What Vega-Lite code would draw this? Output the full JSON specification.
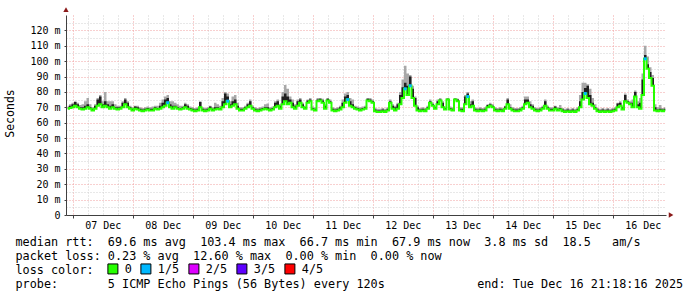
{
"$schema":"https://vega.github.io/schema/vega-lite/v6.json",
"width":600,"height":200,
"autosize":"none",
"padding":{"left":66,"top":15,"right":31,"bottom":82},
"background":"#ffffff",
"title":{"text":"RRDTOOL / TOBI OETIKER","orient":"right","anchor":"start","angle":90,"dx":-10,"font":"DejaVu Sans Mono","fontSize":8.5,"fontWeight":"normal","color":"#bbbbbb","offset":14},
"config":{"view":{"stroke":null},"axis":{"labelFont":"DejaVu Sans Mono","titleFont":"DejaVu Sans Mono","labelColor":"#000000","titleColor":"#000000","titleFontWeight":"normal","gridOpacity":1}},
"data":{"values":[
{"t":"2025-12-06T22:00","m":69,"d":70,"h":71},
{"t":"2025-12-06T23:00","m":69.5,"d":71,"h":72},
{"t":"2025-12-07T00:00","m":70,"d":72,"h":73},
{"t":"2025-12-07T01:00","m":71,"d":73.5,"h":74},
{"t":"2025-12-07T02:00","m":70,"d":72,"h":73},
{"t":"2025-12-07T03:00","m":69,"d":70,"h":71.5},
{"t":"2025-12-07T04:00","m":68.5,"d":70,"h":72},
{"t":"2025-12-07T05:00","m":69,"d":71,"h":74},
{"t":"2025-12-07T06:00","m":70,"d":72,"h":76},
{"t":"2025-12-07T07:00","m":69,"d":70,"h":72},
{"t":"2025-12-07T08:00","m":68,"d":69,"h":70},
{"t":"2025-12-07T09:00","m":69,"d":71,"h":72},
{"t":"2025-12-07T10:00","m":71,"d":75,"h":76},
{"t":"2025-12-07T11:00","m":72,"d":77,"h":78},
{"t":"2025-12-07T12:00","m":70,"d":72,"h":74},
{"t":"2025-12-07T13:00","m":71,"d":74,"h":80},
{"t":"2025-12-07T14:00","m":70,"d":72,"h":74},
{"t":"2025-12-07T15:00","m":69,"d":71,"h":74},
{"t":"2025-12-07T16:00","m":70,"d":72,"h":74},
{"t":"2025-12-07T17:00","m":69,"d":70,"h":72},
{"t":"2025-12-07T18:00","m":68.5,"d":70,"h":71},
{"t":"2025-12-07T19:00","m":69,"d":70,"h":71},
{"t":"2025-12-07T20:00","m":70,"d":73,"h":74},
{"t":"2025-12-07T21:00","m":72,"d":75,"h":76},
{"t":"2025-12-07T22:00","m":70,"d":73,"h":74},
{"t":"2025-12-07T23:00","m":69,"d":70,"h":71},
{"t":"2025-12-08T00:00","m":68,"d":69,"h":70},
{"t":"2025-12-08T01:00","m":69,"d":70.5,"h":71},
{"t":"2025-12-08T02:00","m":68.5,"d":70,"h":71},
{"t":"2025-12-08T03:00","m":68,"d":69,"h":70},
{"t":"2025-12-08T04:00","m":67.5,"d":68.5,"h":69.5},
{"t":"2025-12-08T05:00","m":68,"d":69,"h":70},
{"t":"2025-12-08T06:00","m":68.5,"d":69.5,"h":70.5},
{"t":"2025-12-08T07:00","m":68,"d":69,"h":70},
{"t":"2025-12-08T08:00","m":68,"d":69,"h":70.5},
{"t":"2025-12-08T09:00","m":69,"d":70,"h":71},
{"t":"2025-12-08T10:00","m":68.5,"d":69.5,"h":71},
{"t":"2025-12-08T11:00","m":69,"d":71,"h":73},
{"t":"2025-12-08T12:00","m":70,"d":73,"h":75},
{"t":"2025-12-08T13:00","m":71,"d":75,"h":77},
{"t":"2025-12-08T14:00","m":73,"d":76,"h":78,"loss":"1/5"},
{"t":"2025-12-08T15:00","m":70,"d":72,"h":74},
{"t":"2025-12-08T16:00","m":69,"d":71,"h":74},
{"t":"2025-12-08T17:00","m":70,"d":71,"h":73},
{"t":"2025-12-08T18:00","m":69,"d":70,"h":72},
{"t":"2025-12-08T19:00","m":68.5,"d":69.5,"h":71},
{"t":"2025-12-08T20:00","m":69,"d":70,"h":71},
{"t":"2025-12-08T21:00","m":70,"d":72,"h":73},
{"t":"2025-12-08T22:00","m":69,"d":71,"h":72},
{"t":"2025-12-08T23:00","m":68.5,"d":69.5,"h":70.5},
{"t":"2025-12-09T00:00","m":68,"d":69,"h":70},
{"t":"2025-12-09T01:00","m":67.5,"d":68.5,"h":69.5},
{"t":"2025-12-09T02:00","m":68,"d":69,"h":70},
{"t":"2025-12-09T03:00","m":70,"d":73.5,"h":74},
{"t":"2025-12-09T04:00","m":68,"d":69,"h":70},
{"t":"2025-12-09T05:00","m":67.5,"d":68.5,"h":69.5},
{"t":"2025-12-09T06:00","m":68,"d":69,"h":70},
{"t":"2025-12-09T07:00","m":69,"d":70.5,"h":71},
{"t":"2025-12-09T08:00","m":68,"d":69,"h":70},
{"t":"2025-12-09T09:00","m":68.5,"d":70,"h":73},
{"t":"2025-12-09T10:00","m":69,"d":70,"h":72},
{"t":"2025-12-09T11:00","m":68.5,"d":69.5,"h":71},
{"t":"2025-12-09T12:00","m":70,"d":74,"h":76},
{"t":"2025-12-09T13:00","m":72,"d":79,"h":80},
{"t":"2025-12-09T14:00","m":74,"d":77,"h":79,"loss":"1/5"},
{"t":"2025-12-09T15:00","m":70,"d":72,"h":74},
{"t":"2025-12-09T16:00","m":71,"d":74,"h":77},
{"t":"2025-12-09T17:00","m":72,"d":75,"h":78},
{"t":"2025-12-09T18:00","m":69,"d":71,"h":73},
{"t":"2025-12-09T19:00","m":68,"d":69,"h":70},
{"t":"2025-12-09T20:00","m":68,"d":69,"h":70},
{"t":"2025-12-09T21:00","m":69,"d":70,"h":71},
{"t":"2025-12-09T22:00","m":70,"d":72,"h":73},
{"t":"2025-12-09T23:00","m":71,"d":74,"h":75},
{"t":"2025-12-10T00:00","m":69,"d":70,"h":71},
{"t":"2025-12-10T01:00","m":68,"d":69,"h":70},
{"t":"2025-12-10T02:00","m":67.5,"d":68.5,"h":69.5},
{"t":"2025-12-10T03:00","m":68,"d":69,"h":70},
{"t":"2025-12-10T04:00","m":68.5,"d":69.5,"h":70.5},
{"t":"2025-12-10T05:00","m":69,"d":70,"h":72},
{"t":"2025-12-10T06:00","m":68.5,"d":70,"h":72.5},
{"t":"2025-12-10T07:00","m":68,"d":69,"h":70},
{"t":"2025-12-10T08:00","m":68.5,"d":69.5,"h":70.5},
{"t":"2025-12-10T09:00","m":70,"d":73,"h":74},
{"t":"2025-12-10T10:00","m":71,"d":74,"h":75},
{"t":"2025-12-10T11:00","m":69,"d":71,"h":72},
{"t":"2025-12-10T12:00","m":72,"d":77,"h":80},
{"t":"2025-12-10T13:00","m":74,"d":79,"h":84.5},
{"t":"2025-12-10T14:00","m":72,"d":77,"h":82},
{"t":"2025-12-10T15:00","m":73,"d":75,"h":77},
{"t":"2025-12-10T16:00","m":70,"d":73,"h":75},
{"t":"2025-12-10T17:00","m":69,"d":71,"h":72},
{"t":"2025-12-10T18:00","m":71,"d":74,"h":75},
{"t":"2025-12-10T19:00","m":73,"d":75,"h":76},
{"t":"2025-12-10T20:00","m":70,"d":72,"h":73},
{"t":"2025-12-10T21:00","m":69,"d":70,"h":71},
{"t":"2025-12-10T22:00","m":73,"d":74.5,"h":75},
{"t":"2025-12-10T23:00","m":74,"d":75,"h":76},
{"t":"2025-12-11T00:00","m":68.5,"d":69.5,"h":70.5},
{"t":"2025-12-11T01:00","m":68,"d":69,"h":70},
{"t":"2025-12-11T02:00","m":74,"d":75,"h":76},
{"t":"2025-12-11T03:00","m":74.5,"d":75.5,"h":76},
{"t":"2025-12-11T04:00","m":73,"d":74.5,"h":75.5},
{"t":"2025-12-11T05:00","m":69,"d":71,"h":72},
{"t":"2025-12-11T06:00","m":74.5,"d":75.5,"h":76},
{"t":"2025-12-11T07:00","m":73,"d":74,"h":75},
{"t":"2025-12-11T08:00","m":68,"d":69,"h":70},
{"t":"2025-12-11T09:00","m":67.5,"d":68.5,"h":69.5},
{"t":"2025-12-11T10:00","m":68,"d":69,"h":70},
{"t":"2025-12-11T11:00","m":68.5,"d":70,"h":71},
{"t":"2025-12-11T12:00","m":70,"d":73,"h":75},
{"t":"2025-12-11T13:00","m":73,"d":77,"h":79},
{"t":"2025-12-11T14:00","m":75,"d":78,"h":80,"loss":"1/5"},
{"t":"2025-12-11T15:00","m":71,"d":74,"h":76},
{"t":"2025-12-11T16:00","m":70,"d":72,"h":75},
{"t":"2025-12-11T17:00","m":69,"d":70,"h":71},
{"t":"2025-12-11T18:00","m":68.5,"d":69.5,"h":70.5},
{"t":"2025-12-11T19:00","m":68,"d":69,"h":70},
{"t":"2025-12-11T20:00","m":68.5,"d":69.5,"h":70.5},
{"t":"2025-12-11T21:00","m":69,"d":70,"h":71},
{"t":"2025-12-11T22:00","m":74.5,"d":75.5,"h":76},
{"t":"2025-12-11T23:00","m":74,"d":75,"h":76},
{"t":"2025-12-12T00:00","m":73,"d":74,"h":75},
{"t":"2025-12-12T01:00","m":67.5,"d":68.5,"h":69.5},
{"t":"2025-12-12T02:00","m":67,"d":68,"h":69},
{"t":"2025-12-12T03:00","m":67,"d":68,"h":69},
{"t":"2025-12-12T04:00","m":67.5,"d":68.5,"h":69.5},
{"t":"2025-12-12T05:00","m":67,"d":68,"h":69},
{"t":"2025-12-12T06:00","m":68,"d":69,"h":70},
{"t":"2025-12-12T07:00","m":73,"d":74,"h":75},
{"t":"2025-12-12T08:00","m":69,"d":71,"h":72},
{"t":"2025-12-12T09:00","m":68,"d":70,"h":71},
{"t":"2025-12-12T10:00","m":69,"d":72,"h":73},
{"t":"2025-12-12T11:00","m":72,"d":78,"h":80},
{"t":"2025-12-12T12:00","m":76,"d":83,"h":88},
{"t":"2025-12-12T13:00","m":82,"d":86,"h":97,"loss":"1/5"},
{"t":"2025-12-12T14:00","m":78,"d":84,"h":92},
{"t":"2025-12-12T15:00","m":84,"d":90,"h":91,"loss":"1/5"},
{"t":"2025-12-12T16:00","m":76,"d":82,"h":84},
{"t":"2025-12-12T17:00","m":71,"d":76,"h":77},
{"t":"2025-12-12T18:00","m":68,"d":70,"h":71},
{"t":"2025-12-12T19:00","m":67.5,"d":68.5,"h":69.5},
{"t":"2025-12-12T20:00","m":68,"d":69,"h":70},
{"t":"2025-12-12T21:00","m":67.5,"d":68.5,"h":69.5},
{"t":"2025-12-12T22:00","m":69,"d":70,"h":71},
{"t":"2025-12-12T23:00","m":73,"d":74,"h":75},
{"t":"2025-12-13T00:00","m":71,"d":72,"h":73},
{"t":"2025-12-13T01:00","m":69,"d":70,"h":71},
{"t":"2025-12-13T02:00","m":72,"d":74,"h":75},
{"t":"2025-12-13T03:00","m":74.5,"d":75,"h":76},
{"t":"2025-12-13T04:00","m":70,"d":73,"h":74},
{"t":"2025-12-13T05:00","m":68.5,"d":69.5,"h":70.5},
{"t":"2025-12-13T06:00","m":75,"d":75.5,"h":76},
{"t":"2025-12-13T07:00","m":68.5,"d":69.5,"h":70.5},
{"t":"2025-12-13T08:00","m":68,"d":69,"h":70},
{"t":"2025-12-13T09:00","m":75,"d":75.5,"h":76},
{"t":"2025-12-13T10:00","m":74,"d":75,"h":75.5},
{"t":"2025-12-13T11:00","m":68,"d":69,"h":70},
{"t":"2025-12-13T12:00","m":67.5,"d":69,"h":70},
{"t":"2025-12-13T13:00","m":72,"d":77,"h":78},
{"t":"2025-12-13T14:00","m":77,"d":79,"h":80,"loss":"1/5"},
{"t":"2025-12-13T15:00","m":70,"d":72,"h":74},
{"t":"2025-12-13T16:00","m":71,"d":74,"h":75},
{"t":"2025-12-13T17:00","m":68,"d":69,"h":70},
{"t":"2025-12-13T18:00","m":67.5,"d":68.5,"h":69.5},
{"t":"2025-12-13T19:00","m":68,"d":69,"h":70},
{"t":"2025-12-13T20:00","m":67.5,"d":68.5,"h":69.5},
{"t":"2025-12-13T21:00","m":68,"d":69,"h":70},
{"t":"2025-12-13T22:00","m":70,"d":71.5,"h":72},
{"t":"2025-12-13T23:00","m":71,"d":72,"h":73},
{"t":"2025-12-14T00:00","m":70,"d":71,"h":72},
{"t":"2025-12-14T01:00","m":68,"d":69,"h":70},
{"t":"2025-12-14T02:00","m":67.5,"d":68.5,"h":69.5},
{"t":"2025-12-14T03:00","m":68,"d":69,"h":70},
{"t":"2025-12-14T04:00","m":67.5,"d":68.5,"h":69.5},
{"t":"2025-12-14T05:00","m":69,"d":70.5,"h":71},
{"t":"2025-12-14T06:00","m":72,"d":75,"h":76},
{"t":"2025-12-14T07:00","m":69,"d":70,"h":72},
{"t":"2025-12-14T08:00","m":68,"d":69,"h":70},
{"t":"2025-12-14T09:00","m":67.5,"d":68.5,"h":69.5},
{"t":"2025-12-14T10:00","m":67.5,"d":68.5,"h":69.5},
{"t":"2025-12-14T11:00","m":68,"d":69,"h":70},
{"t":"2025-12-14T12:00","m":69,"d":70,"h":71},
{"t":"2025-12-14T13:00","m":72,"d":75,"h":77},
{"t":"2025-12-14T14:00","m":73,"d":75,"h":77},
{"t":"2025-12-14T15:00","m":70,"d":72,"h":74},
{"t":"2025-12-14T16:00","m":69,"d":71,"h":72},
{"t":"2025-12-14T17:00","m":68,"d":69,"h":70},
{"t":"2025-12-14T18:00","m":67.5,"d":68.5,"h":69.5},
{"t":"2025-12-14T19:00","m":68,"d":69,"h":70},
{"t":"2025-12-14T20:00","m":69,"d":70,"h":71},
{"t":"2025-12-14T21:00","m":71,"d":74,"h":75},
{"t":"2025-12-14T22:00","m":69,"d":70,"h":71},
{"t":"2025-12-14T23:00","m":68,"d":69,"h":70},
{"t":"2025-12-15T00:00","m":68,"d":69,"h":70},
{"t":"2025-12-15T01:00","m":69,"d":70.5,"h":71},
{"t":"2025-12-15T02:00","m":68,"d":69,"h":70},
{"t":"2025-12-15T03:00","m":68.5,"d":69.5,"h":71.5},
{"t":"2025-12-15T04:00","m":67.5,"d":68.5,"h":69.5},
{"t":"2025-12-15T05:00","m":67,"d":68,"h":69},
{"t":"2025-12-15T06:00","m":67.5,"d":68.5,"h":69.5},
{"t":"2025-12-15T07:00","m":67,"d":68,"h":69},
{"t":"2025-12-15T08:00","m":67.5,"d":68.5,"h":69.5},
{"t":"2025-12-15T09:00","m":67,"d":68,"h":69},
{"t":"2025-12-15T10:00","m":68,"d":69,"h":70},
{"t":"2025-12-15T11:00","m":70,"d":74,"h":78},
{"t":"2025-12-15T12:00","m":75,"d":80,"h":86},
{"t":"2025-12-15T13:00","m":79,"d":82.5,"h":86,"loss":"1/5"},
{"t":"2025-12-15T14:00","m":76,"d":84,"h":85},
{"t":"2025-12-15T15:00","m":72,"d":78,"h":82},
{"t":"2025-12-15T16:00","m":71,"d":73,"h":76},
{"t":"2025-12-15T17:00","m":69,"d":70,"h":72},
{"t":"2025-12-15T18:00","m":67.5,"d":68.5,"h":69.5},
{"t":"2025-12-15T19:00","m":67,"d":68,"h":69},
{"t":"2025-12-15T20:00","m":67.5,"d":68.5,"h":69.5},
{"t":"2025-12-15T21:00","m":67,"d":68,"h":69},
{"t":"2025-12-15T22:00","m":67.5,"d":68.5,"h":69.5},
{"t":"2025-12-15T23:00","m":67,"d":68,"h":69},
{"t":"2025-12-16T00:00","m":67.5,"d":68.5,"h":69.5},
{"t":"2025-12-16T01:00","m":68,"d":69,"h":70},
{"t":"2025-12-16T02:00","m":70,"d":72.5,"h":73},
{"t":"2025-12-16T03:00","m":71,"d":73,"h":74},
{"t":"2025-12-16T04:00","m":68.5,"d":70,"h":71},
{"t":"2025-12-16T05:00","m":74,"d":78,"h":79},
{"t":"2025-12-16T06:00","m":73,"d":74,"h":75},
{"t":"2025-12-16T07:00","m":72,"d":73,"h":74},
{"t":"2025-12-16T08:00","m":70,"d":73,"h":75},
{"t":"2025-12-16T09:00","m":77,"d":80,"h":81},
{"t":"2025-12-16T10:00","m":70,"d":72,"h":74},
{"t":"2025-12-16T11:00","m":69,"d":73,"h":76},
{"t":"2025-12-16T12:00","m":78,"d":88,"h":92},
{"t":"2025-12-16T13:00","m":101.5,"d":104,"h":110,"loss":"1/5"},
{"t":"2025-12-16T14:00","m":95,"d":98,"h":103},
{"t":"2025-12-16T15:00","m":89,"d":93,"h":96},
{"t":"2025-12-16T16:00","m":84,"d":89,"h":91},
{"t":"2025-12-16T17:00","m":68,"d":70,"h":72},
{"t":"2025-12-16T18:00","m":67.5,"d":68.5,"h":70},
{"t":"2025-12-16T19:00","m":68,"d":69,"h":71.5},
{"t":"2025-12-16T20:00","m":67.5,"d":68.5,"h":69.5},
{"t":"2025-12-16T21:00","m":68,"d":69,"h":70}
]},
"layer":[
{"mark":{"type":"area","color":"#a8a8a8","interpolate":"step"},
 "encoding":{
  "x":{"field":"t","type":"temporal","scale":{"domain":[{"year":2025,"month":12,"date":6,"hours":21,"minutes":18,"seconds":16},{"year":2025,"month":12,"date":16,"hours":21,"minutes":18,"seconds":16}]},
   "axis":{"tickCount":40,"grid":true,
    "gridColor":{"condition":{"test":"hours(datum.value) == 0","value":"#f0a0a0"},"value":"#d0d0d0"},"gridDash":[1,2],
    "labelExpr":"hours(datum.value) == 0 ? timeFormat(datum.value, '%d %b') : ''","labelOffset":30,"labelFontSize":10,"labelPadding":2,"labelFlush":false,"labelOverlap":false,
    "tickSize":3,"tickColor":{"condition":{"test":"hours(datum.value) == 0","value":"#404040"},"value":"transparent"},"domainColor":"#404040",
    "title":["median rtt:\u00a0\u00a069.6 ms avg\u00a0\u00a0103.4 ms max\u00a0\u00a066.7 ms min\u00a0\u00a067.9 ms now\u00a0\u00a03.8 ms sd\u00a0\u00a018.5\u00a0\u00a0\u00a0am/s","packet loss: 0.23 % avg\u00a0\u00a012.60 % max\u00a0\u00a00.00 % min\u00a0\u00a00.00 % now","loss color:","probe:\u00a0\u00a0\u00a0\u00a0\u00a0\u00a0\u00a05 ICMP Echo Pings (56 Bytes) every 120s\u00a0\u00a0\u00a0\u00a0\u00a0\u00a0\u00a0\u00a0\u00a0\u00a0\u00a0\u00a0\u00a0end: Tue Dec 16 21:18:16 2025"],
    "titleX":-51,"titleY":30,"titleAlign":"left","titleAnchor":"start","titleBaseline":"alphabetic","titleFontSize":11.8,"titleLineHeight":14}},
  "y":{"field":"m","type":"quantitative","scale":{"domain":[0,130],"nice":false},
   "axis":{"values":[0,5,10,15,20,25,30,35,40,45,50,55,60,65,70,75,80,85,90,95,100,105,110,115,120,125],"tickCount":30,"grid":true,
    "gridColor":{"condition":{"test":"datum.value % 10 == 0","value":"#f0a0a0"},"value":"#d0d0d0"},"gridDash":[1,2],
    "labelExpr":"datum.value % 10 != 0 ? '' : (datum.value == 0 ? '0\u00a0\u00a0' : datum.value + ' m')","labelFontSize":10,"labelPadding":4,"labelOverlap":false,
    "tickSize":2,"tickColor":{"condition":{"test":"datum.value % 10 == 0","value":"#404040"},"value":"transparent"},"domainColor":"#404040",
    "title":"Seconds","titleFontSize":11.5,"titleX":-56,"titleY":98,"titleAngle":-90,"titleAlign":"center","titleBaseline":"middle"}},
  "y2":{"field":"h"}}},
{"mark":{"type":"area","color":"#202020","interpolate":"step"},
 "encoding":{"x":{"field":"t","type":"temporal"},"y":{"field":"m","type":"quantitative"},"y2":{"field":"d"}}},
{"mark":{"type":"line","color":"#26ff00","strokeWidth":2,"interpolate":"step"},
 "encoding":{"x":{"field":"t","type":"temporal"},"y":{"field":"m","type":"quantitative"}}},
{"transform":[{"filter":"isValid(datum.loss)"}],
 "mark":{"type":"point","shape":"square","filled":true,"size":9,"opacity":1},
 "encoding":{"x":{"field":"t","type":"temporal"},"y":{"field":"m","type":"quantitative"},
  "color":{"field":"loss","type":"nominal","scale":{"domain":["0","1/5","2/5","3/5","4/5"],"range":["#26ff00","#00b8ff","#dd00ff","#5e00ff","#ff0000"]},
   "legend":{"orient":"none","legendX":41,"legendY":248,"direction":"horizontal","title":null,"labelFont":"DejaVu Sans Mono","labelFontSize":11.8,"labelColor":"#000000","labelOffset":6,"symbolType":"square","symbolSize":100,"symbolStrokeColor":"#000000","symbolStrokeWidth":1,"columnPadding":6}}}},
{"data":{"values":[{"t":"2025-12-06T21:18:16","v":133.5}]},
 "mark":{"type":"point","shape":"triangle-up","filled":true,"clip":false,"size":28,"color":"#8b1a1a","opacity":1},
 "encoding":{"x":{"field":"t","type":"temporal"},"y":{"field":"v","type":"quantitative"}}},
{"data":{"values":[{"t":"2025-12-16T23:20:00","v":0}]},
 "mark":{"type":"point","shape":"triangle-right","filled":true,"clip":false,"size":28,"color":"#8b1a1a","opacity":1},
 "encoding":{"x":{"field":"t","type":"temporal"},"y":{"field":"v","type":"quantitative"}}}
]
}
